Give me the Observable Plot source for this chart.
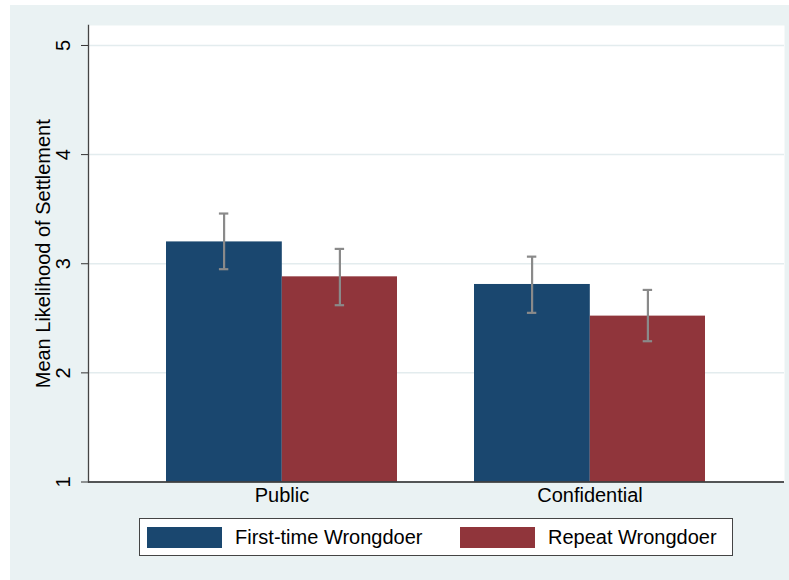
<!DOCTYPE html>
<html>
<head>
<meta charset="utf-8">
<script src="https://cdn.jsdelivr.net/npm/d3@7"></script>
<script src="https://cdn.jsdelivr.net/npm/@observablehq/plot@0.6"></script>
<style>
  html, body { margin: 0; padding: 0; background: #ffffff; }
  body { width: 789px; height: 580px; position: relative; overflow: hidden;
         font-family: "Liberation Sans", Arial, Helvetica, sans-serif; }
  #bg { position: absolute; left: 10px; top: 5px; right: 0; bottom: 0; background: #eaf2f3; }
  #chart { position: absolute; left: 0; top: 0; }
  #legend { position: absolute; left: 139px; top: 518px; width: 592px; height: 36px;
            border: 1px solid #444; background: #fff; }
  .item { position: absolute; top: 0; height: 36px; display: flex; align-items: center; }
  .sw { width: 75px; height: 21px; margin-right: 13px; }
  .lbl { font-size: 20px; color: #000; white-space: nowrap; }
</style>
</head>
<body>
<div id="bg"></div>
<div id="chart"></div>
<div id="legend"></div>
<script>
// ---- data ----
const groups = ["Public", "Confidential"];
const series = ["First-time Wrongdoer", "Repeat Wrongdoer"];
const firstMeans  = [3.20, 2.81];
const firstLo     = [2.95, 2.55];
const firstHi     = [3.46, 3.065];
const repeatMeans = [2.88, 2.52];
const repeatLo    = [2.62, 2.29];
const repeatHi    = [3.136, 2.76];
const colors = ["#1a476f", "#90353b"];
const yTicks = [1, 2, 3, 4, 5];
const yLabel = "Mean Likelihood of Settlement";

const rows = [];
groups.forEach((g, i) => {
  rows.push({group: g, series: series[0], mean: firstMeans[i], lo: firstLo[i], hi: firstHi[i], base: 1});
  rows.push({group: g, series: series[1], mean: repeatMeans[i], lo: repeatLo[i], hi: repeatHi[i], base: 1});
});
const firstRows = rows.filter(d => d.series === series[0]);
const repeatRows = rows.filter(d => d.series === series[1]);

const W = 789, H = 510;
const mL = 88, mR = 5, mT = 25, mB = 28.5;
const xOpts = {type: "band", domain: groups, paddingInner: 0.249, paddingOuter: 0.253, range: [mL, W - mR]};
const bw = Plot.scale({x: xOpts}).bandwidth;
const half = bw / 2, q = bw / 4, cap = 5;

const chart = Plot.plot({
  width: W, height: H,
  marginLeft: mL, marginRight: mR, marginTop: mT, marginBottom: mB,
  style: {background: "transparent", fontFamily: '"Liberation Sans", Arial, Helvetica, sans-serif', color: "#000"},
  x: {...xOpts, label: null},
  y: {domain: [1, 5.183], label: null},
  marks: [
    Plot.frame({fill: "#ffffff", stroke: null}),
    Plot.ruleY(yTicks, {stroke: "#e3ecee", strokeWidth: 1.5}),
    Plot.barY(firstRows, {x: "group", y1: "base", y2: "mean", fill: colors[0], insetRight: half - 0.6}),
    Plot.barY(repeatRows, {x: "group", y1: "base", y2: "mean", fill: colors[1], insetLeft: half}),
    Plot.ruleX(firstRows, {x: "group", y1: "lo", y2: "hi", dx: -q, stroke: "#8a8a8a", strokeWidth: 2.2}),
    Plot.ruleX(repeatRows, {x: "group", y1: "lo", y2: "hi", dx: q, stroke: "#8a8a8a", strokeWidth: 2.2}),
    Plot.tickY(firstRows, {x: "group", y: "lo", insetLeft: q - cap, insetRight: 3 * q - cap, stroke: "#8a8a8a", strokeWidth: 2.2}),
    Plot.tickY(firstRows, {x: "group", y: "hi", insetLeft: q - cap, insetRight: 3 * q - cap, stroke: "#8a8a8a", strokeWidth: 2.2}),
    Plot.tickY(repeatRows, {x: "group", y: "lo", insetLeft: 3 * q - cap, insetRight: q - cap, stroke: "#8a8a8a", strokeWidth: 2.2}),
    Plot.tickY(repeatRows, {x: "group", y: "hi", insetLeft: 3 * q - cap, insetRight: q - cap, stroke: "#8a8a8a", strokeWidth: 2.2}),
    Plot.ruleY([1], {stroke: "#222", strokeWidth: 1.3}),
    Plot.frame({anchor: "left", stroke: "#444", strokeWidth: 1.3}),
    Plot.axisY({ticks: yTicks, tickFormat: d3.format("d"), tickSize: 7, tickPadding: 12, tickRotate: -90, fontSize: 20, stroke: "#333", label: null}),
    Plot.axisX({tickSize: 0, tickPadding: 6, fontSize: 20, label: null}),
    Plot.text([yLabel], {frameAnchor: "left", rotate: -90, dx: -45, textAnchor: "middle", fontSize: 20, fill: "#000"})
  ]
});
document.getElementById("chart").appendChild(chart);

// ---- legend ----
const legend = document.getElementById("legend");
const itemLeft = [7, 320];
series.forEach((s, i) => {
  const it = document.createElement("div");
  it.className = "item";
  it.style.left = itemLeft[i] + "px";
  const sw = document.createElement("div");
  sw.className = "sw";
  sw.style.background = colors[i];
  const lb = document.createElement("span");
  lb.className = "lbl";
  lb.textContent = s;
  it.appendChild(sw); it.appendChild(lb);
  legend.appendChild(it);
});
</script>
</body>
</html>
